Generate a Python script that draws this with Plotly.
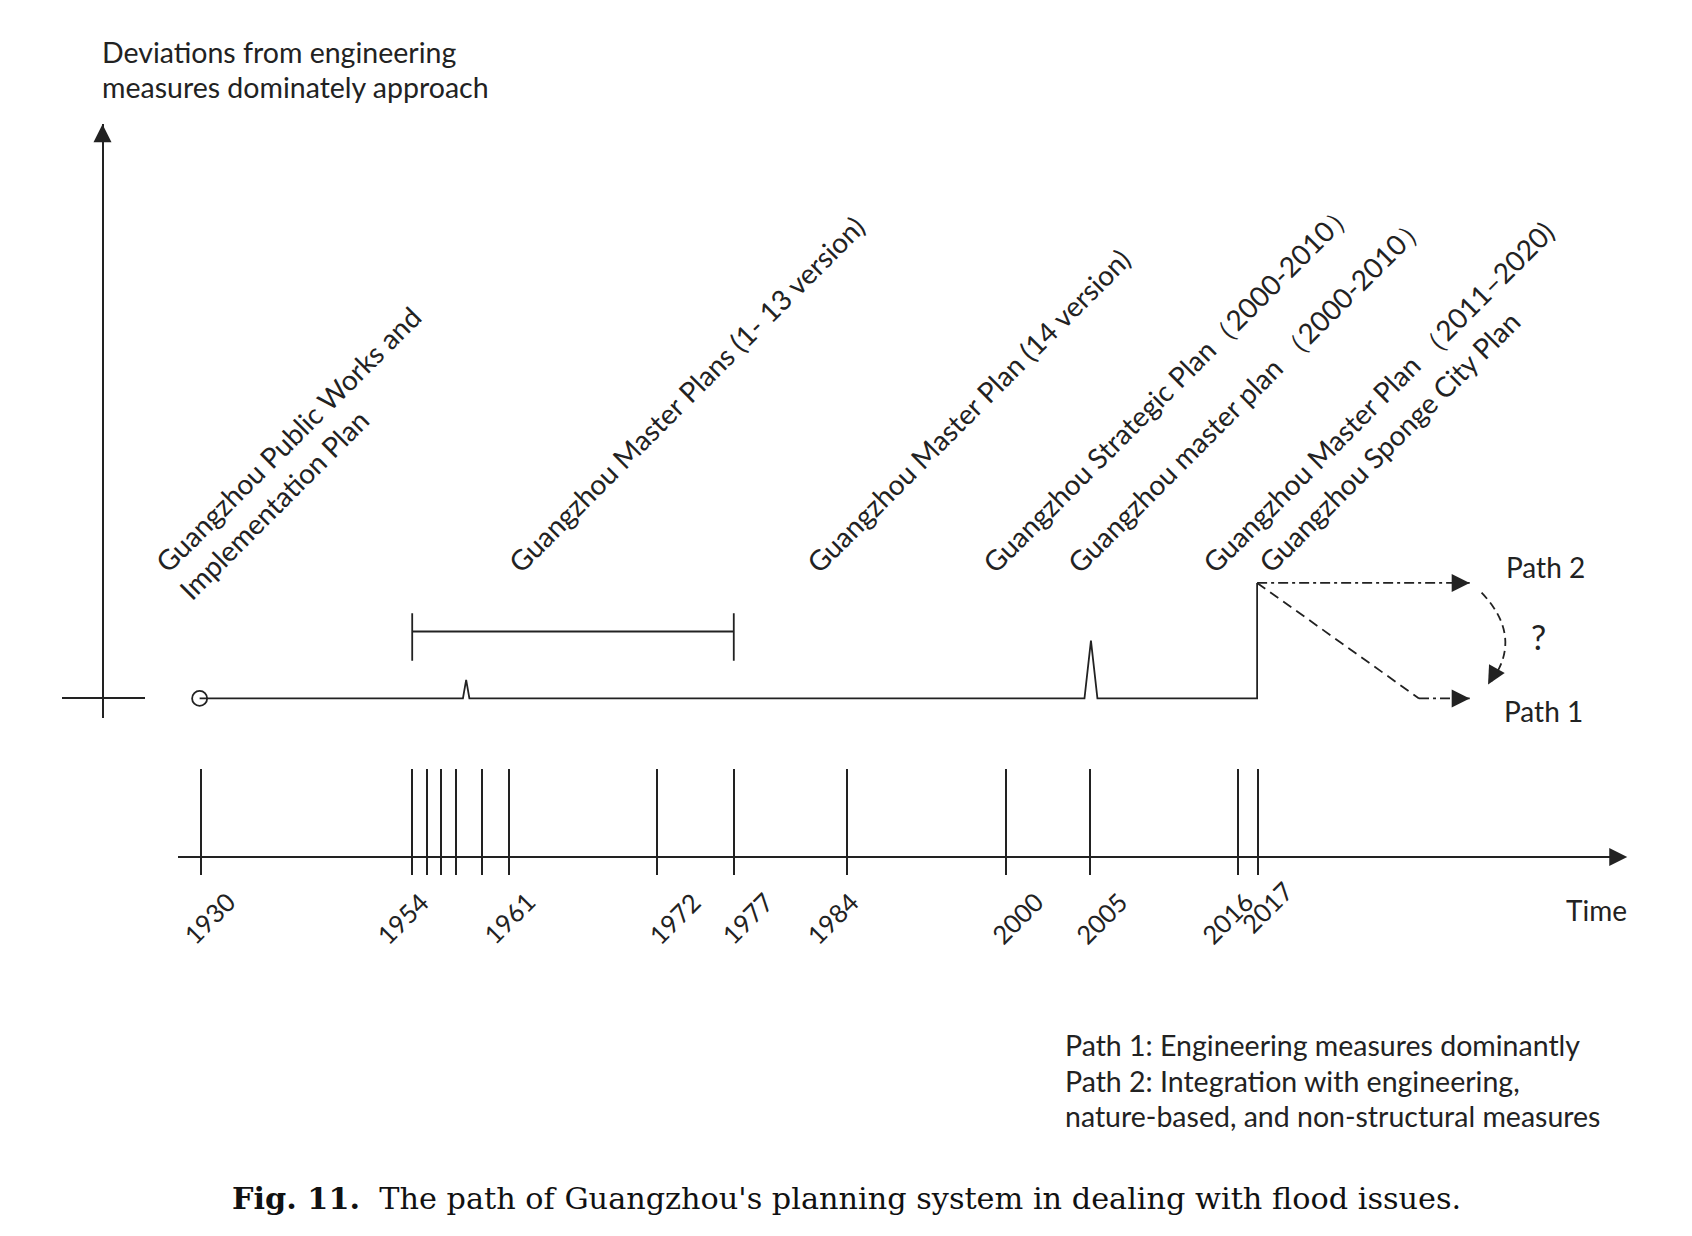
import plotly.graph_objects as go

# ---------------- data (schematic positions) ----------------
# timeline tick positions (schematic x units) and their year labels
tick_pos = [186, 382, 396, 409, 423, 447, 472, 609, 680, 785, 932, 1010, 1147, 1166]
tick_years = ["1930", "1954", "", "", "", "", "1961", "1972", "1977", "1984", "2000", "2005", "2016", "2017"]

# deviation from the engineering-dominated approach (0 = baseline, 1 = step in 2017)
dev_pos = [185, 429, 432, 435, 1005, 1011, 1017, 1165, 1165]
dev_val = [0, 0, 0.16, 0, 0, 0.5, 0, 0, 1.0]

# future paths
path2_pos = [1165, 1362]
path2_val = [1.0, 1.0]
path1a_pos = [1165, 1315]
path1a_val = [1.0, 0.0]
path1b_pos = [1315, 1362]
path1b_val = [0.0, 0.0]

# period bracket of master plans 1-13 (1954-1977)
bracket_start, bracket_end = 382, 680

# plan labels: text, start position on the timeline, baseline row
plan_labels = [
    "Guangzhou Public Works and",
    "Implementation Plan",
    "Guangzhou Master Plans (1- 13 version)",
    "Guangzhou Master Plan (14 version)",
    "Guangzhou Strategic Plan（2000-2010）",
    "Guangzhou master plan （2000-2010）",
    "Guangzhou Master Plan （2011–2020)",
    "Guangzhou Sponge City Plan",
]
plan_start = [148, 170, 475, 752, 915, 993, 1118, 1170]
plan_bottom = [528, 553, 528, 528, 528, 528, 528, 528]

y_title = ["Deviations from engineering", "measures dominately approach"]
legend_lines = [
    "Path 1: Engineering measures dominantly",
    "Path 2: Integration with engineering,",
    "nature-based, and non-structural measures",
]
caption = "<b>Fig. 11.</b>  The path of Guangzhou's planning system in dealing with flood issues."

# ---------------- layout helpers ----------------
W, H = 1692, 1236
RW, RH = 1568.0, 1145.0          # drawing grid
OFF = 8 * RW / W                  # page body margin, in grid units
PXU = 107.0                       # grid px per deviation unit
BASE = 647.0                      # grid y of baseline

# hand placement of the year labels (px right of tick, px vertical nudge)
year_dx = {"1930": 36, "1954": 18, "1961": 27, "1972": 45, "1977": 41, "1984": 13,
           "2000": 39, "2005": 39, "2016": 17, "2017": 36}
year_dy = {"2017": -11}


def px(x):
    return (x - OFF) / RW


def py(y):
    return 1 - (y - OFF) / RH


INK = "#222222"
SANS = "Lato, 'Open Sans', sans-serif"
SERIF = "'DejaVu Serif', 'Liberation Serif', serif"
LW = 1.8

fig = go.Figure()

# main deviation line
fig.add_trace(go.Scatter(x=dev_pos, y=dev_val, mode="lines",
                         line=dict(color=INK, width=LW), hoverinfo="skip"))
# start circle
fig.add_trace(go.Scatter(x=dev_pos[:1], y=dev_val[:1], mode="markers",
                         marker=dict(symbol="circle-open", size=15, color=INK,
                                     line=dict(width=1.8, color=INK)),
                         hoverinfo="skip"))
# bracket
top, bot, mid = (BASE - 568) / PXU, (BASE - 612) / PXU, (BASE - 585) / PXU
fig.add_trace(go.Scatter(
    x=[bracket_start, bracket_start, None, bracket_start, bracket_end, None, bracket_end, bracket_end],
    y=[top, bot, None, mid, mid, None, top, bot],
    mode="lines", line=dict(color=INK, width=LW), hoverinfo="skip"))
# paths
fig.add_trace(go.Scatter(x=path2_pos, y=path2_val, mode="lines",
                         line=dict(color=INK, width=LW, dash="10px,4px,3px,4px"), hoverinfo="skip"))
fig.add_trace(go.Scatter(x=path1a_pos, y=path1a_val, mode="lines",
                         line=dict(color=INK, width=LW, dash="10px,6px"), hoverinfo="skip"))
fig.add_trace(go.Scatter(x=path1b_pos, y=path1b_val, mode="lines",
                         line=dict(color=INK, width=LW, dash="10px,4px,3px,4px"), hoverinfo="skip"))

# curved dashed arrow between the paths
p0y, p1y = (BASE - 549) / PXU, (BASE - 631) / PXU
fig.add_shape(type="path", xref="x", yref="y",
              path=f"M 1373,{p0y} Q 1412,{(BASE - 590) / PXU} 1382,{p1y}",
              line=dict(color=INK, width=LW, dash="8px,5px"))

annotations = []


def arrowhead(x, y, ax, ay, xref="x", yref="y"):
    annotations.append(dict(x=x, y=y, xref=xref, yref=yref, ax=ax, ay=ay,
                            showarrow=True, arrowhead=2, arrowsize=2.0,
                            arrowwidth=LW, arrowcolor=INK, text=""))


arrowhead(path2_pos[-1], path2_val[-1], -18, 0)
arrowhead(path1b_pos[-1], path1b_val[-1], -18, 0)
arrowhead(1379, (BASE - 634) / PXU, 9, -16)
arrowhead(px(1508), py(794), -18, 0, "paper", "paper")
arrowhead(px(95), py(115), 0, 18, "paper", "paper")

# year labels under the timeline ticks
for pos, yr in zip(tick_pos, tick_years):
    if not yr:
        continue
    annotations.append(dict(text=yr, x=pos, xref="x", y=py(819 + year_dy.get(yr, 0)), yref="paper",
                            xanchor="right", yanchor="top", xshift=year_dx[yr] + 7,
                            textangle=-45, showarrow=False,
                            font=dict(family=SANS, size=25.5, color=INK)))

# plan labels (rotated)
for t, s, b in zip(plan_labels, plan_start, plan_bottom):
    annotations.append(dict(text=t, x=px(s - 13), y=py(b + 11), xref="paper", yref="paper",
                            xanchor="left", yanchor="bottom", textangle=-45, showarrow=False,
                            font=dict(family=SANS, size=28, color=INK)))

# y title
for i, t in enumerate(y_title):
    annotations.append(dict(text=t, x=px(93), y=py(48 + 33 * i), xref="paper", yref="paper",
                            xanchor="left", yanchor="middle", showarrow=False,
                            font=dict(family=SANS, size=28.5, color=INK)))
# path labels
for t, x, y, s in [("Path 2", 1394, 525, 28), ("Path 1", 1392, 659, 28),
                   ("?", 1417, 590, 34), ("Time", 1449, 843, 28)]:
    annotations.append(dict(text=t, x=px(x), y=py(y), xref="paper", yref="paper",
                            xanchor="left", yanchor="middle", showarrow=False,
                            font=dict(family=SANS, size=s, color=INK)))
# legend lines
for i, t in enumerate(legend_lines):
    annotations.append(dict(text=t, x=px(985), y=py(968 + 33 * i), xref="paper", yref="paper",
                            xanchor="left", yanchor="middle", showarrow=False,
                            font=dict(family=SANS, size=28.5, color=INK)))
# caption
annotations.append(dict(text=caption, x=px(784), y=py(1110), xref="paper", yref="paper",
                        xanchor="center", yanchor="middle", showarrow=False,
                        font=dict(family=SERIF, size=30.3, color="#111111")))

x_dom = [px(165), px(1501)]
axis_common = dict(showgrid=False, zeroline=False, tickcolor=INK, tickwidth=LW, automargin=False)
fig.update_layout(
    width=W, height=H, margin=dict(l=0, r=0, t=0, b=0, pad=0, autoexpand=False),
    autosize=False,
    paper_bgcolor="white", plot_bgcolor="rgba(0,0,0,0)", showlegend=False,
    xaxis=dict(domain=x_dom, range=[165, 1501], anchor="free", position=py(794),
               showline=True, linecolor=INK, linewidth=2,
               ticks="outside", ticklen=17, tickmode="array", tickvals=tick_pos,
               ticktext=tick_years, showticklabels=False, **axis_common),
    xaxis2=dict(domain=x_dom, range=[165, 1501], matches="x", overlaying="x", anchor="free",
                position=py(794), showline=False, ticks="inside", ticklen=88,
                tickmode="array", tickvals=tick_pos, showticklabels=False, **axis_common),
    yaxis=dict(domain=[py(665), py(115)], range=[-(665 - BASE) / PXU, (BASE - 115) / PXU],
               anchor="free", position=px(95), showline=True, linecolor=INK, linewidth=2,
               ticks="outside", ticklen=40, tickmode="array", tickvals=[0],
               showticklabels=False, **axis_common),
    yaxis2=dict(domain=[py(665), py(115)], range=[-(665 - BASE) / PXU, (BASE - 115) / PXU],
                overlaying="y", anchor="free", position=px(95), showline=False,
                ticks="inside", ticklen=41, tickmode="array", tickvals=[0],
                showticklabels=False, **axis_common),
    annotations=annotations,
)
# invisible trace so the secondary axes are drawn
fig.add_trace(go.Scatter(x=[tick_pos[0]], y=[0], xaxis="x2", yaxis="y2", mode="markers",
                         marker=dict(opacity=0), hoverinfo="skip"))

fig.write_html("out.html", config={"responsive": False})
